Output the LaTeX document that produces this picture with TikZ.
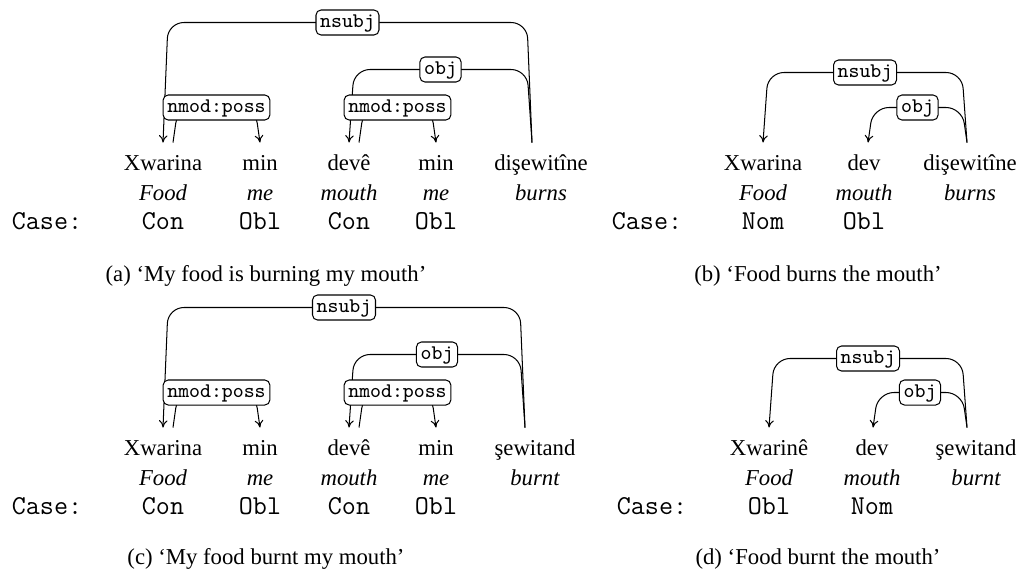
\documentclass[tikz,border=0pt]{standalone}
\usepackage{fontspec}
\setmainfont{Liberation Serif}
\usetikzlibrary{calc,arrows.meta}

\tikzset{
  word/.style={anchor=base, inner sep=0pt, text height=11.9pt},
  gloss/.style={anchor=base, inner sep=0pt, font=\itshape},
  case/.style={anchor=base, inner sep=0pt, font=\ttfamily\fontsize{12}{14}\selectfont},
  dep/.style={-{To[length=3.2pt,width=3.8pt]}, rounded corners=7pt, line width=0.45pt},
  lbl/.style={draw, fill=white, rounded corners=2.2pt, font=\ttfamily\fontsize{9.15}{11}\selectfont,
    text height=5.5pt, text depth=1.5pt, inner xsep=1.85pt, inner ysep=2pt},
}

\begin{document}
\begin{tikzpicture}[x=0.44pt, y=-0.44pt]
\useasboundingbox (0,0) rectangle (1027,573);

%(a)
\foreach \n/\x/\w/\g in {1/163/Xwarina/Food, 2/260/min/me, 3/349/devê/mouth, 4/436/min/me, 5/541/dişewitîne/burns}
  {\node[word] (a\n) at (\x,170) {\w};
   \node[gloss] (ga\n) at (\x,200) {\g};}
\node[case] (ca0) at (47,229) {Case:};
\foreach \n/\x/\c in {1/163/Con, 2/260/Obl, 3/349/Con, 4/436/Obl}
  {\node[case] (ca\n) at (\x,229) {\c};}
\draw[dep] ($(a5.north)+(-9,0)$) -- ++(-5,-120) -- ($(a1.north)+(5,-120)$) node[midway,lbl] {nsubj} -- (a1.north);
\draw[dep] ($(a5.north)+(-9,0)$) -- ++(-5,-73) -- ($(a3.north)+(5,-73)$) node[midway,lbl] {obj} -- (a3.north);
\draw[dep] ($(a1.north)+(10,0)$) -- ++(5,-35) -- ($(a2.north)+(-5,-35)$) node[midway,lbl] {nmod:poss} -- (a2.north);
\draw[dep] ($(a3.north)+(10,0)$) -- ++(5,-35) -- ($(a4.north)+(-5,-35)$) node[midway,lbl] {nmod:poss} -- (a4.north);
\node[anchor=base] (capa) at (266,281) {(a) ‘My food is burning my mouth’};

%(b)
\foreach \n/\x/\w/\g in {1/763/Xwarina/Food, 2/864/dev/mouth, 3/970/dişewitîne/burns}
  {\node[word] (b\n) at (\x,170) {\w};
   \node[gloss] (gb\n) at (\x,200) {\g};}
\node[case] (cb0) at (647,229) {Case:};
\foreach \n/\x/\c in {1/763/Nom, 2/864/Obl}
  {\node[case] (cb\n) at (\x,229) {\c};}
\draw[dep] ($(b3.north)+(-3,0)$) -- ++(-5,-70) -- ($(b1.north)+(5,-70)$) node[midway,lbl] {nsubj} -- (b1.north);
\draw[dep] ($(b3.north)+(-3,0)$) -- ++(-5,-35) -- ($(b2.north)+(9,-35)$) node[midway,lbl] {obj} -- ($(b2.north)+(4,0)$);
\node[anchor=base] (capb) at (818,281) {(b) ‘Food burns the mouth’};

%(c)
\foreach \n/\x/\w/\g in {1/163/Xwarina/Food, 2/260/min/me, 3/349/devê/mouth, 4/436/min/me, 5/535/şewitand/burnt}
  {\node[word] (c\n) at (\x,455) {\w};
   \node[gloss] (gc\n) at (\x,485) {\g};}
\node[case] (cc0) at (47,514) {Case:};
\foreach \n/\x/\c in {1/163/Con, 2/260/Obl, 3/349/Con, 4/436/Obl}
  {\node[case] (cc\n) at (\x,514) {\c};}
\draw[dep] ($(c5.north)+(-10,0)$) -- ++(-5,-120) -- ($(c1.north)+(5,-120)$) node[midway,lbl] {nsubj} -- (c1.north);
\draw[dep] ($(c5.north)+(-10,0)$) -- ++(-5,-73) -- ($(c3.north)+(5,-73)$) node[midway,lbl] {obj} -- (c3.north);
\draw[dep] ($(c1.north)+(10,0)$) -- ++(5,-35) -- ($(c2.north)+(-5,-35)$) node[midway,lbl] {nmod:poss} -- (c2.north);
\draw[dep] ($(c3.north)+(10,0)$) -- ++(5,-35) -- ($(c4.north)+(-5,-35)$) node[midway,lbl] {nmod:poss} -- (c4.north);
\node[anchor=base] (capc) at (266,564) {(c) ‘My food burnt my mouth’};

%(d)
\foreach \n/\x/\w/\g in {1/769/Xwarinê/Food, 2/872/dev/mouth, 3/976/şewitand/burnt}
  {\node[word] (d\n) at (\x,455) {\w};
   \node[gloss] (gd\n) at (\x,485) {\g};}
\node[case] (cd0) at (652,514) {Case:};
\foreach \n/\x/\c in {1/769/Obl, 2/872/Nom}
  {\node[case] (cd\n) at (\x,514) {\c};}
\draw[dep] ($(d3.north)+(-9,0)$) -- ++(-5,-69) -- ($(d1.north)+(5,-69)$) node[midway,lbl] {nsubj} -- (d1.north);
\draw[dep] ($(d3.north)+(-9,0)$) -- ++(-5,-35) -- ($(d2.north)+(6,-35)$) node[midway,lbl] {obj} -- ($(d2.north)+(1,0)$);
\node[anchor=base] (capd) at (818,564) {(d) ‘Food burnt the mouth’};

\end{tikzpicture}
\end{document}
